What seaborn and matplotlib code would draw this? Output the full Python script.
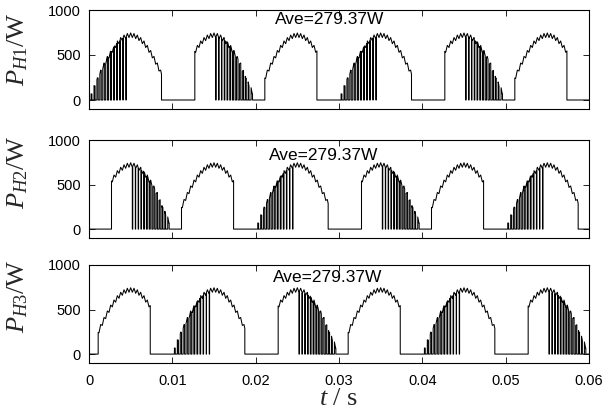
import numpy as np
import pandas as pd
import matplotlib
matplotlib.use("Agg")
import matplotlib.pyplot as plt
import seaborn as sns

# ---------------- data ----------------
# one half-cycle (10 ms) of the power profile incl. ripple, sampled every 0.2 ms (W)
arch_profile_w = [0, 70, 65, 160, 154, 247, 240, 332, 322, 411, 398, 484, 468, 550, 530,
                  607, 583, 656, 626, 694, 660, 722, 682, 739, 694, 745, 694, 739, 682,
                  722, 660, 694, 626, 656, 583, 607, 530, 550, 468, 484, 398, 411, 322,
                  332, 240, 247, 154, 160, 65, 70, 0]
arch_step_ms = 0.2
arch_len_ms = 10.0

# conduction intervals (ms, relative to the start of each half-cycle) for the three arch types
arch_A_on = [(0.25, 0.35), (0.60, 0.73), (0.95, 1.10), (1.30, 1.47), (1.65, 1.84),
             (2.00, 2.21), (2.35, 2.58), (2.70, 2.95), (3.05, 3.32), (3.40, 3.69),
             (3.75, 4.07), (4.10, 4.43), (4.47, 8.70)]
arch_B_on = [(2.70, 5.20), (5.25, 5.56), (5.60, 5.90), (5.95, 6.23), (6.30, 6.56),
             (6.65, 6.89), (7.00, 7.22), (7.35, 7.55), (7.70, 7.88), (8.05, 8.21),
             (8.40, 8.54), (8.75, 8.87), (9.10, 9.20), (9.45, 9.62)]
arch_C_on = [(1.10, 7.35)]

# arch type of each half-cycle for the three heaters
heater_names = ["H1", "H2", "H3"]
heater_H1_arches = ["A", "B", "C", "A", "B", "C"]
heater_H2_arches = ["B", "C", "A", "B", "C", "A"]
heater_H3_arches = ["C", "A", "B", "C", "A", "B"]
average_labels = ["Ave=279.37W", "Ave=279.37W", "Ave=279.37W"]

x_ticks = [0, 0.01, 0.02, 0.03, 0.04, 0.05, 0.06]
x_tick_labels = ["0", "0.01", "0.02", "0.03", "0.04", "0.05", "0.06"]
y_ticks = [0, 500, 1000]
y_tick_labels = ["0", "500", "1000"]

# ---------------- build the waveforms ----------------
on_table = {"A": arch_A_on, "B": arch_B_on, "C": arch_C_on}
prof_t = np.arange(len(arch_profile_w)) * arch_step_ms
prof_w = np.array(arch_profile_w, dtype=float)


def level(t):
    return float(np.interp(t, prof_t, prof_w))


def build(arches):
    ts, ps = [0.0], [0.0]
    for k, typ in enumerate(arches):
        base = k * arch_len_ms
        for a, b in on_table[typ]:
            inner = [(t, p) for t, p in zip(prof_t, prof_w) if a < t < b]
            ts += [base + a, base + a] + [base + t for t, _ in inner] + [base + b, base + b]
            ps += [0.0, level(a)] + [p for _, p in inner] + [level(b), 0.0]
    ts.append(len(arches) * arch_len_ms)
    ps.append(0.0)
    return pd.DataFrame({"t": np.array(ts) / 1000.0, "P": ps})


frames = [build(a) for a in (heater_H1_arches, heater_H2_arches, heater_H3_arches)]

# ---------------- style ----------------
sns.set_theme(style="ticks")
plt.rcParams["font.family"] = ["Liberation Sans", "DejaVu Sans"]
plt.rcParams["mathtext.fontset"] = "custom"
plt.rcParams["mathtext.rm"] = "Liberation Serif"
plt.rcParams["mathtext.it"] = "Liberation Serif:italic"

fig = plt.figure(figsize=(6.06, 4.13), dpi=100)
W, H = 606, 413
left, right = 89, 589
boxes = [(10, 109), (140, 238), (265, 363)]
text_pos = [(0.0289, 19), (0.0282, 155), (0.0286, 278)]
label_centers = [49, 172, 296]

for i, (df, (top, bot)) in enumerate(zip(frames, boxes)):
    ax = fig.add_axes([left / W, 1 - bot / H, (right - left) / W, (bot - top) / H])
    sns.lineplot(data=df, x="t", y="P", ax=ax, color="black", linewidth=0.75,
                 sort=False, estimator=None, legend=False)
    ax.set_xlim(0, 0.06)
    ax.set_ylim(-100, 1000)
    ax.set_xticks(x_ticks)
    ax.set_yticks(y_ticks)
    ax.set_yticklabels(y_tick_labels)
    ax.tick_params(direction="in", top=True, right=True, length=4, width=0.6,
                   labelsize=10.5, colors="black", pad=6)
    ax.tick_params(axis="x", pad=8)
    if i < 2:
        ax.set_xticklabels([])
        ax.set_xlabel("")
    else:
        ax.set_xticklabels(x_tick_labels)
        ax.set_xlabel(r"$t$ / s", family="Liberation Serif", fontsize=19, labelpad=0)
    for s in ax.spines.values():
        s.set_linewidth(0.8)
        s.set_color("black")
    ax.set_ylabel(r"$P_{\mathit{" + heater_names[i] + r"}}$/W",
                  family="Liberation Serif", fontsize=19, va="center")
    ax.yaxis.set_label_coords((18 - left) / (right - left), (bot - label_centers[i]) / (bot - top))
    tx, ty = text_pos[i]
    y_data = -100 + (bot - ty) / (bot - top) * 1100
    ax.text(tx, y_data, average_labels[i], ha="center", va="center", fontsize=12.5,
            color="black")

fig.savefig("out.png", dpi=100)
